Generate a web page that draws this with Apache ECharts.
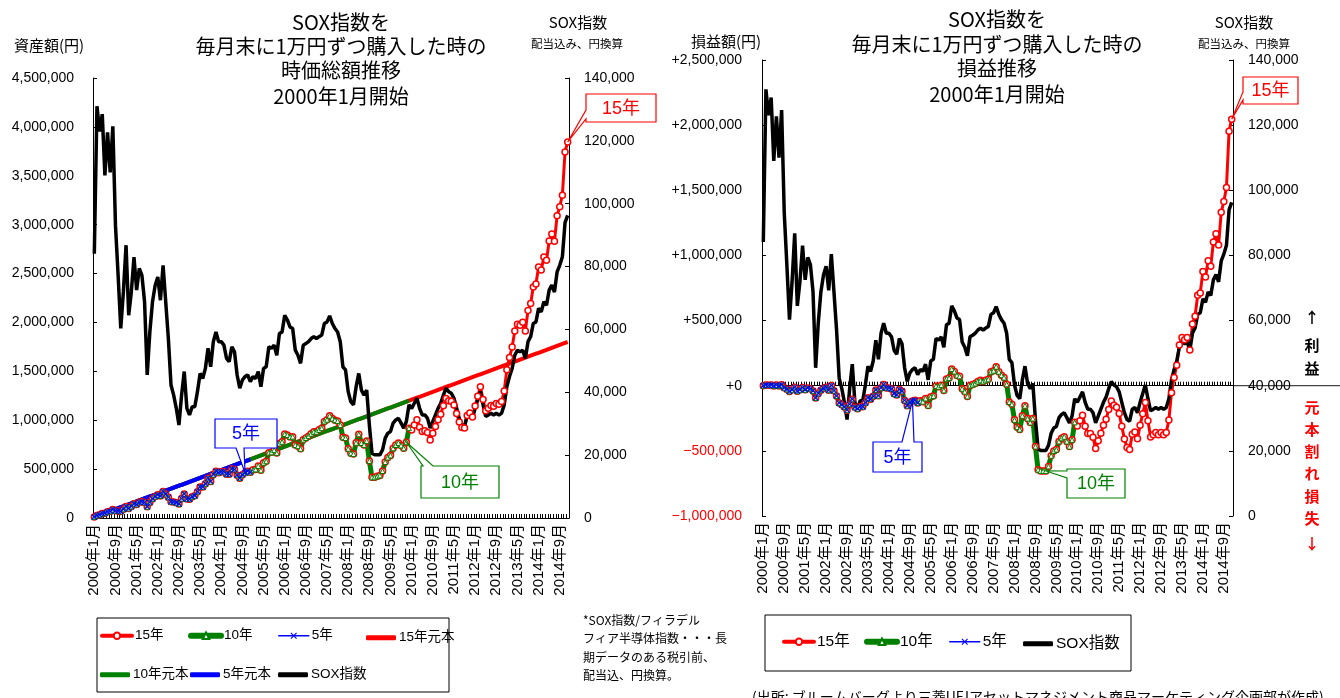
<!DOCTYPE html>
<html>
<head>
<meta charset="utf-8">
<script src="https://cdn.jsdelivr.net/npm/echarts@6/dist/echarts.min.js"></script>
<style>
html,body{margin:0;padding:0;background:#fff;}
#c{width:1340px;height:698px;}
</style>
</head>
<body>
<div id="c"></div>
<script>
// Month-end categories, 2000年1月 .. 2014年12月
const startYear = 2000;
const months = [];
for (let y = 0; y < 15; y++) {
  for (let m = 1; m <= 12; m++) months.push((startYear + y) + '年' + m + '月');
}

// SOX index (dividends included, yen basis), month end
const sox = [
  84100,131000,123000,128500,109000,122700,110000,124600,93100,77200,
  60300,72000,86800,64500,72000,83000,72500,79400,77200,68800,
  45500,59200,68800,74000,76700,69300,80400,68800,57100,42300,
  39100,34900,29600,39100,46600,34900,32800,35400,35400,40200,
  46000,44400,47600,54000,48100,56100,59200,56100,56100,55000,
  50800,49700,54500,52900,45500,41300,43900,45000,45500,43400,
  45000,44400,46600,41800,47600,48100,54500,54000,55000,51800,
  58700,59200,64500,63000,60800,60300,53400,51800,49200,55000,
  55500,56100,57100,57700,57100,57700,58200,61900,62400,64300,
  61900,60300,59200,56100,48100,47100,40200,37000,36000,41800,
  46000,40700,39100,40700,29600,20600,20100,20100,20100,21700,
  25400,27000,27500,30200,31200,31700,30200,28600,30700,36000,
  34900,36500,38100,34900,32800,32800,31700,28600,30700,32800,
  34900,36500,39100,41300,40200,39700,38100,34900,31700,29600,
  29100,32800,33300,31700,34900,37600,40200,36000,32300,32800,
  33300,32800,33300,32800,33300,36000,41800,45000,47600,51800,
  53400,52900,53400,50800,56100,57700,61900,62400,66700,65600,
  68800,67700,72500,74100,71900,78300,80400,83100,94000,96300
];

// Market value of the accumulated holding (yen), month end
const holdingValue = [
  10000,25600,34000,45500,48600,64700,68000,87100,75000,72200,
  66400,89300,117700,97400,118800,146900,138300,161500,167000,158800,
  115000,159700,195600,220300,238400,225400,271500,242300,211100,166400,
  163800,156200,142500,198200,246200,194400,192700,218000,228000,268900,
  317700,316700,349500,406500,372100,443900,478500,463400,473400,474100,
  447900,448200,501500,496800,437300,406900,442600,463600,478800,466700,
  493900,497300,532000,487200,564800,580700,668000,671800,694300,663900,
  762300,778800,858500,848600,828900,832100,746900,734500,707700,801100,
  818400,837200,862100,881200,882000,901300,919100,987500,1005500,1046100,
  1017100,1000800,992500,950600,825000,817900,708000,661700,653800,769100,
  856400,767700,747600,788200,583200,415900,415800,425800,435800,480500,
  572400,618400,639900,712700,746300,768300,741900,712600,775000,918700,
  900700,952000,1003700,929400,883500,893500,873500,798100,866700,936000,
  1005900,1062000,1147700,1222200,1199700,1194800,1156600,1069500,981400,926400,
  920700,1047800,1073800,1032200,1146400,1245100,1341200,1211100,1096600,1123600,
  1150700,1143400,1170800,1163300,1191000,1297600,1516600,1642700,1747600,1911800,
  1980900,1972300,2001000,1913600,2123200,2193800,2363500,2392500,2567400,2535100,
  2668700,2636100,2833000,2905500,2829200,3091100,3184000,3300900,3744000,3845800
];

// 1万円 bought at every month end
const monthlyAmount = 10000;
const principal = holdingValue.map((_, i) => monthlyAmount * (i + 1));
const profit = holdingValue.map((v, i) => v - principal[i]);

// horizons (months) of the three plans
const span15 = 180, span10 = 120, span5 = 60;

const leftTicks = { min: 0, max: 4500000, interval: 500000 };
const profitTicks = { min: -1000000, max: 2500000, interval: 500000 };
const soxTicks = { min: 0, max: 140000, interval: 20000 };

const RED = '#ff0000', GREEN = '#008000', BLUE = '#0000ff', BLACK = '#000000';
const FONT = "'Liberation Sans','Noto Sans CJK JP',sans-serif";
const JFONT = "'Noto Sans CJK JP','Liberation Sans',sans-serif";
const crossSymbol = 'path://M0,1.2L1.2,0L5,3.8L8.8,0L10,1.2L6.2,5L10,8.8L8.8,10L5,6.2L1.2,10L0,8.8L3.8,5Z';

const fmt = v => Math.abs(v).toLocaleString('en-US');
const signed = v => v > 0 ? '+' + fmt(v) : (v === 0 ? '+0' : '\u2212' + fmt(v));

const chart = echarts.init(document.getElementById('c'), null, { renderer: 'canvas' });

function catAxis(grid, extra) {
  return Object.assign({
    gridIndex: grid, type: 'category', data: months, boundaryGap: true,
    axisLine: { lineStyle: { color: BLACK, width: 1 } },
    axisTick: { show: true, inside: true, interval: 0, length: 4, lineStyle: { color: BLACK } },
    axisLabel: { interval: 7, rotate: 90, fontSize: 15, color: BLACK, margin: 6, fontFamily: FONT },
    splitLine: { show: false }
  }, extra);
}
function valAxis(grid, ticks, pos, labelFmt, margin, color) {
  return {
    gridIndex: grid, type: 'value', position: pos,
    min: ticks.min, max: ticks.max, interval: ticks.interval,
    axisLine: { show: true, onZero: false, lineStyle: { color: BLACK, width: 1 } },
    axisTick: { show: true, inside: true, length: 4, lineStyle: { color: BLACK } },
    axisLabel: { formatter: labelFmt, fontSize: 14, color: color || BLACK, margin, fontFamily: FONT },
    splitLine: { show: false }
  };
}

function holdingSeries(name, data, xi, yi, kind) {
  const s = { name, type: 'line', xAxisIndex: xi, yAxisIndex: yi, data, showAllSymbol: true, z: 2 };
  if (kind === 15) {
    Object.assign(s, { symbol: 'circle', symbolSize: 6,
      itemStyle: { color: '#fff', borderColor: RED, borderWidth: 1.5 },
      lineStyle: { color: RED, width: 3 } });
  } else if (kind === 10) {
    Object.assign(s, { symbol: 'triangle', symbolSize: 5,
      itemStyle: { color: '#fff', borderColor: GREEN, borderWidth: 1 },
      lineStyle: { color: GREEN, width: 5 } });
  } else {
    Object.assign(s, { symbol: crossSymbol, symbolSize: 6,
      itemStyle: { color: BLUE },
      lineStyle: { color: BLUE, width: 1.5 } });
  }
  return s;
}
function plainLine(name, data, xi, yi, color, width) {
  return { name, type: 'line', xAxisIndex: xi, yAxisIndex: yi, data, symbol: 'none',
    lineStyle: { color, width }, itemStyle: { color }, z: 2 };
}

// one legend entry per component so each sits where it should inside its frame
function keyBase(name, left, top, size) {
  return {
    data: [name], left, top, padding: 0, itemWidth: 30, itemHeight: 8, itemGap: 0, selectedMode: false,
    textStyle: { fontSize: size, color: BLACK, fontFamily: FONT, padding: [0, 0, 0, -2] }
  };
}
const markerKey = (name, left, top, width, size) =>
  Object.assign(keyBase(name, left, top, size), { lineStyle: { width, cap: 'round' } });
const barKey = (name, left, top, size) =>
  Object.assign(keyBase(name, left, top, size), { icon: 'roundRect', itemHeight: 5 });

const LS = 13.5, RS = 15.5;

chart.setOption({
  animation: false,
  textStyle: { fontFamily: FONT },
  grid: [
    { left: 93, top: 78, width: 476, height: 440 },
    { left: 762, top: 60, width: 471, height: 456 }
  ],
  xAxis: [
    catAxis(0, {}),
    catAxis(1, { axisLine: { onZero: true, onZeroAxisIndex: 2, lineStyle: { color: BLACK } }, axisLabel: { show: false } }),
    catAxis(1, { position: 'bottom', axisLine: { show: false, onZero: false }, axisTick: { show: false } })
  ],
  yAxis: [
    valAxis(0, leftTicks, 'left', v => fmt(v), 19),
    valAxis(0, soxTicks, 'right', v => fmt(v), 15),
    valAxis(1, profitTicks, 'left', signed, 20, v => (Number(v) < 0 ? RED : BLACK)),
    valAxis(1, soxTicks, 'right', v => fmt(v), 15)
  ],
  legend: [
    markerKey('15年', 100, 629, 4, LS), markerKey('10年', 188, 629, 6, LS), markerKey('5年', 278, 629, 1.5, LS),
    barKey('15年元本', 366, 631, LS), barKey('10年元本', 100, 668, LS), barKey('5年元本', 190, 668, LS),
    barKey('SOX指数', 278, 668, LS),
    markerKey('15年', 782, 634, 4, RS), markerKey('10年', 864, 634, 6, RS), markerKey('5年', 949, 634, 1.5, RS),
    barKey('SOX指数', 1023, 636, RS)
  ],
  series: [
    holdingSeries('15年', holdingValue.slice(0, span15), 0, 0, 15),
    holdingSeries('10年', holdingValue.slice(0, span10), 0, 0, 10),
    holdingSeries('5年', holdingValue.slice(0, span5), 0, 0, 5),
    plainLine('15年元本', principal.slice(0, span15), 0, 0, RED, 4),
    plainLine('10年元本', principal.slice(0, span10), 0, 0, GREEN, 4),
    plainLine('5年元本', principal.slice(0, span5), 0, 0, BLUE, 4),
    plainLine('SOX指数', sox, 0, 1, BLACK, 3.5),
    holdingSeries('15年', profit.slice(0, span15), 1, 2, 15),
    holdingSeries('10年', profit.slice(0, span10), 1, 2, 10),
    holdingSeries('5年', profit.slice(0, span5), 1, 2, 5),
    plainLine('SOX指数', sox, 1, 3, BLACK, 3.5)
  ]
});

// ---- text blocks, legend frames and callouts ----
function txt(x, y, text, size, opts) {
  return Object.assign({
    type: 'text', x, y, silent: true,
    style: Object.assign({ text, fontSize: size, fontFamily: JFONT, fill: BLACK,
      align: 'center', verticalAlign: 'middle' }, (opts && opts.style) || {})
  }, (opts && opts.el) || {});
}

// rectangle callout with a wedge pointing at a data point
function callout(box, side, a, b, target, color, label) {
  const [x0, y0, x1, y1] = box, [tx, ty] = target;
  const pts = [[x0, y0]];
  if (side === 'top') pts.push([a, y0], [tx, ty], [b, y0]);
  pts.push([x1, y0], [x1, y1]);
  if (side === 'bottom') pts.push([b, y1], [tx, ty], [a, y1]);
  pts.push([x0, y1]);
  if (side === 'left') pts.push([x0, b], [tx, ty], [x0, a]);
  return [
    { type: 'polygon', silent: true, z: 50, shape: { points: pts },
      style: { fill: '#fff', stroke: color, lineWidth: 1.2 } },
    txt((x0 + x1) / 2, (y0 + y1) / 2 + 1, label, 18, { style: { fill: color, fontFamily: FONT }, el: { z: 51 } })
  ];
}

const P = (seriesIndex, i, v) => chart.convertToPixel({ seriesIndex }, [i, v]);

const els = [];
// left panel headings
['SOX指数を', '毎月末に1万円ずつ購入した時の', '時価総額推移', '2000年1月開始'].forEach((t, k) =>
  els.push(txt(341, [22, 46, 70, 96][k], t, 20)));
els.push(txt(49, 45, '資産額(円)', 15));
els.push(txt(578, 22, 'SOX指数', 15));
els.push(txt(577, 44, '配当込み、円換算', 11.5));
// right panel headings
['SOX指数を', '毎月末に1万円ずつ購入した時の', '損益推移', '2000年1月開始'].forEach((t, k) =>
  els.push(txt(997, [19, 44, 68, 94][k], t, 20)));
els.push(txt(726, 41, '損益額(円)', 15));
els.push(txt(1244, 22, 'SOX指数', 15));
els.push(txt(1244, 44, '配当込み、円換算', 11.5));

// legend frames
els.push({ type: 'rect', silent: true, shape: { x: 97, y: 618, width: 352, height: 74 },
  style: { fill: 'none', stroke: BLACK, lineWidth: 1 } });
els.push({ type: 'rect', silent: true, shape: { x: 765, y: 615, width: 366, height: 56 },
  style: { fill: 'none', stroke: BLACK, lineWidth: 1 } });

// footnote and source line
['*SOX指数/フィラデル', 'フィア半導体指数・・・長', '期データのある税引前、', '配当込、円換算。'].forEach((t, k) =>
  els.push(txt(583, 620 + k * 18.5, t, 12, { style: { align: 'left' } })));
els.push(txt(752, 690, '(出所: ブルームバーグより三菱UFJアセットマネジメント商品マーケティング企画部が作成)', 14,
  { style: { align: 'left', verticalAlign: 'top' } }));

// profit / loss side marks
[['↑', 317], ['利', 345], ['益', 368]].forEach(([t, y]) =>
  els.push(txt(1312, y, t, 15, { style: { fontWeight: 'bold' } })));
[['元', 407], ['本', 429], ['割', 451], ['れ', 473], ['損', 496], ['失', 518], ['↓', 543]].forEach(([t, y]) =>
  els.push(txt(1312, y, t, 15, { style: { fontWeight: 'bold', fill: RED } })));

// zero line carried past the right-hand axis
const zeroY = chart.convertToPixel({ yAxisIndex: 2 }, 0);
els.push({ type: 'line', silent: true, shape: { x1: 1233, y1: zeroY, x2: 1340, y2: zeroY },
  style: { stroke: '#444', lineWidth: 1.2 } });

// callouts, left panel
els.push(...callout([586, 94, 656, 122], 'left', 110, 119, P(0, span15 - 1, holdingValue[span15 - 1]), RED, '15年'));
els.push(...callout([215, 419, 277, 448], 'bottom', 236, 244, P(2, 57, holdingValue[57]), BLUE, '5年'));
els.push(...callout([421, 466, 499, 498], 'top', 423, 433, P(1, 118, holdingValue[118]), GREEN, '10年'));
// callouts, right panel
els.push(...callout([1243, 77, 1298, 104], 'left', 92, 100, P(7, span15 - 1, profit[span15 - 1]), RED, '15年'));
els.push(...callout([873, 442, 922, 472], 'top', 902, 914, P(9, 57, profit[57]), BLUE, '5年'));
els.push(...callout([1067, 469, 1125, 498], 'left', 471, 478, P(8, 108, profit[108]), GREEN, '10年'));

chart.setOption({ graphic: { elements: els } });
</script>
</body>
</html>
